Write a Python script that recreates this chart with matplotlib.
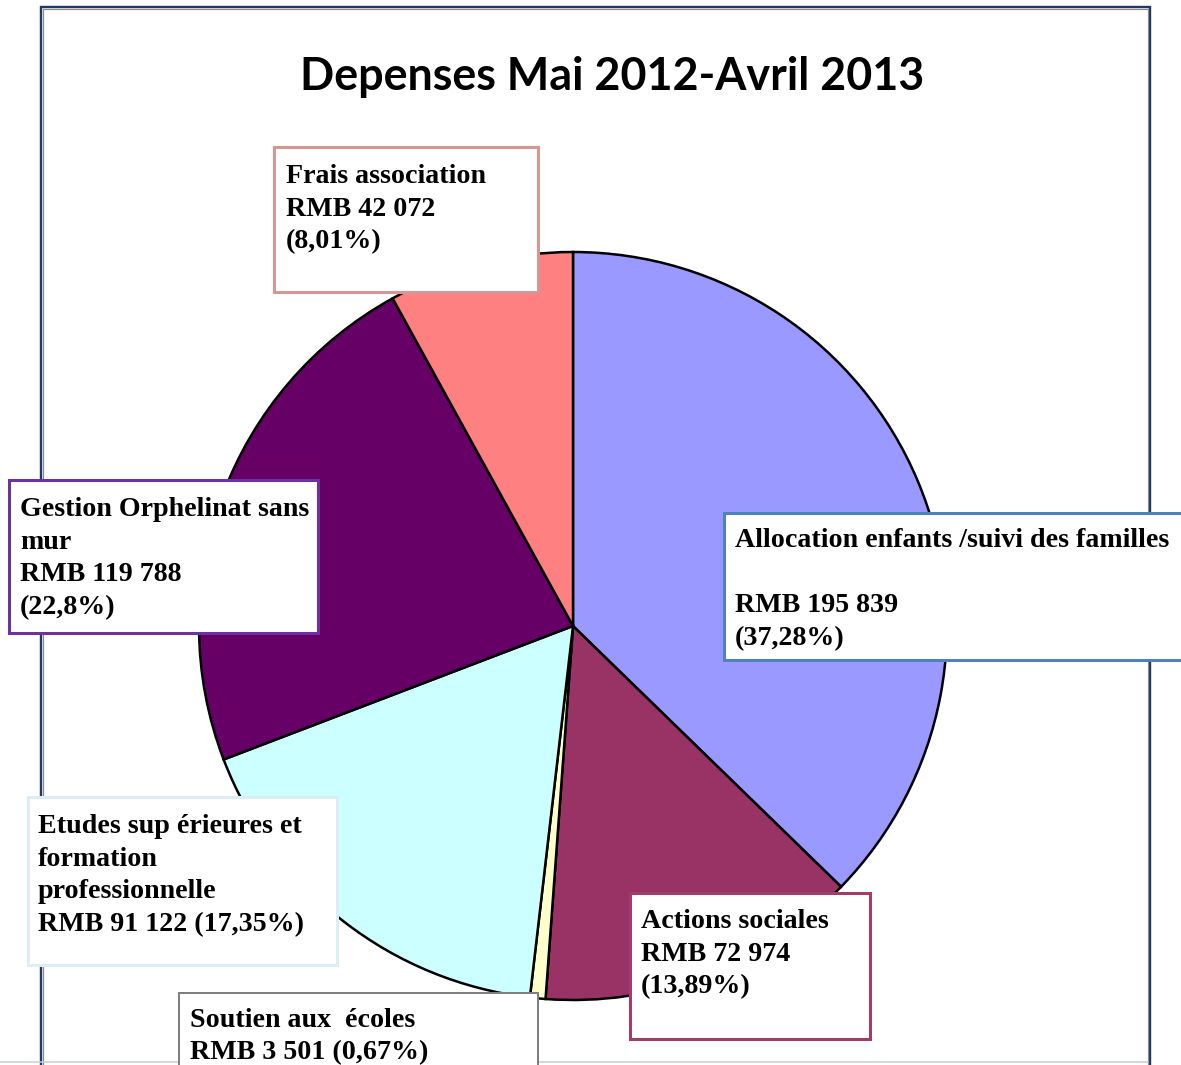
import matplotlib
matplotlib.use("Agg")
import matplotlib.pyplot as plt
from matplotlib.patches import Rectangle

# ---------------- data ----------------
title = "Depenses Mai 2012-Avril 2013"
categories = ["Allocation enfants /suivi des familles", "Actions sociales",
              "Soutien aux écoles", "Etudes supérieures et formation professionnelle",
              "Gestion Orphelinat sans mur", "Frais association"]
amounts_rmb = [195839, 72974, 3501, 91122, 119788, 42072]
percents = [37.28, 13.89, 0.67, 17.35, 22.8, 8.01]
colors = ["#9999FF", "#993366", "#FFFFCC", "#CCFFFF", "#660066", "#FF8080"]

# label text lines as shown in the picture
label_lines = [
    ["Allocation enfants /suivi des familles", "", "RMB 195 839", "(37,28%)"],
    ["Actions sociales", "RMB 72 974", "(13,89%)"],
    ["Soutien aux  écoles", "RMB 3 501 (0,67%)"],
    ["Etudes sup érieures et", "formation", "professionnelle", "RMB 91 122 (17,35%)"],
    ["Gestion Orphelinat sans", "mur", "RMB 119 788", "(22,8%)"],
    ["Frais association", "RMB 42 072", "(8,01%)"],
]
box_edge_colors = ["#4F81BD", "#A33D68", "#7F7F7F", "#DAEEF3", "#7030A0", "#D99594"]

# ---------------- layout (pixels, y from top) ----------------
W, H = 1181, 1065
fig = plt.figure(figsize=(W / 100, H / 100), dpi=100)
ax = fig.add_axes([0, 0, 1, 1])

def Y(py):
    return H - py

px = 0.72  # one pixel in points

# outer frame
ax.add_patch(Rectangle((41.3, Y(1100)), 1149.7 - 41.3, 1100 - 7.2, fill=False,
                       edgecolor="#1F3A64", linewidth=2.4 * px, zorder=0.5))
ax.add_patch(Rectangle((43.4, Y(1100)), 1147.6 - 43.4, 1100 - 9.0, fill=False,
                       edgecolor="#8C8C8C", linewidth=1.2 * px, zorder=0.6))
ax.plot([0, 1148], [Y(1062), Y(1062)], color="#C3CCDA", linewidth=1.5 * px, zorder=0.7)

# pie
wedges, _ = ax.pie(percents, colors=colors, startangle=90, counterclock=False,
                   center=(573, Y(626)), radius=374, frame=True,
                   wedgeprops=dict(edgecolor="black", linewidth=2.5 * px))
for w in wedges:
    w.set_zorder(2)

# boxes: (left, top, right, bottom) in pixels
boxes = [
    (724, 513, 1200, 660),
    (630, 893, 870, 1039),
    (179, 993, 538, 1100),
    (28, 797, 337, 965),
    (9, 480, 318, 633),
    (274, 147, 538, 292),
]
text_pos = [  # x, first baseline
    (735, 547),
    (641, 928),
    (190, 1027),
    (38, 833),
    (20, 516),
    (286, 183),
]
line_step = 32.6
for (l, t, r, b), ec, lines, (tx, ty) in zip(boxes, box_edge_colors, label_lines, text_pos):
    lw = 2.0 if ec == "#7F7F7F" else 3.0
    ax.add_patch(Rectangle((l, Y(b)), r - l, b - t, facecolor="white",
                           edgecolor=ec, linewidth=lw * px, zorder=3))
    for i, s in enumerate(lines):
        if s:
            ax.text(tx, Y(ty + i * line_step), s, fontsize=20.2, fontweight="bold",
                    family="Liberation Serif", ha="left", va="baseline",
                    color="black", zorder=4)

ax.text(612, Y(90), title, fontsize=32.3, fontweight="bold", family="Lato",
        ha="center", va="baseline", color="black", zorder=4)

ax.set_xlim(0, W)
ax.set_ylim(0, H)
ax.set_aspect("auto")
ax.axis("off")
fig.savefig("out.png", dpi=100, facecolor="white")
